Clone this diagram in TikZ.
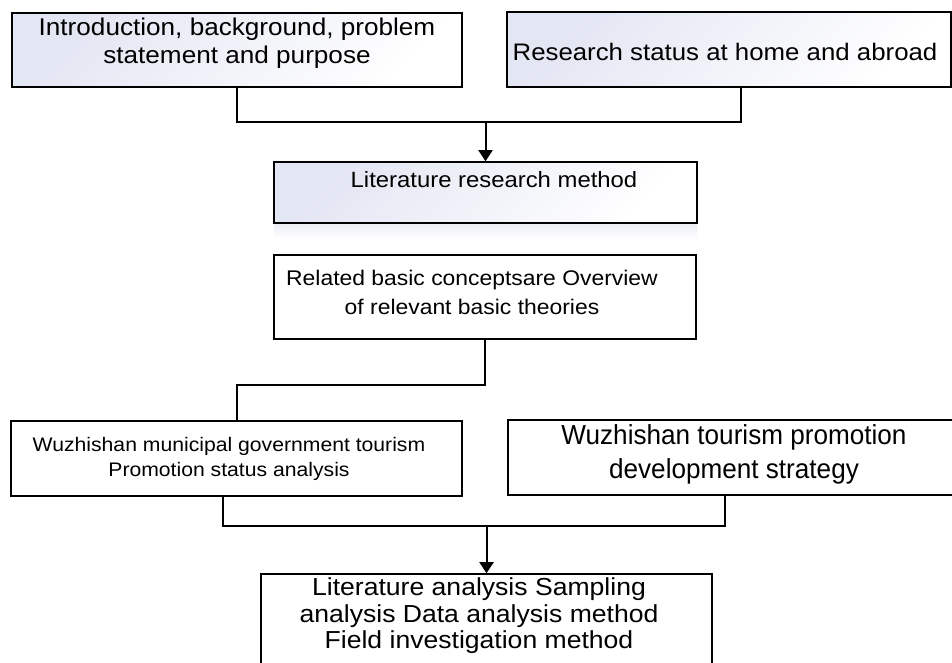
\documentclass[tikz,border=0pt]{standalone}
\usepackage{fontspec}
\setmainfont{Liberation Sans}[FakeStretch=1.08]
\newfontfamily\plainf{Liberation Sans}[FakeStretch=0.95]
\usetikzlibrary{arrows.meta}
\definecolor{grad}{HTML}{E3E6F3}
\begin{document}
\begin{tikzpicture}[x=1pt,y=-1pt,
  box/.style={draw=black, line width=1.6pt, rectangle, inner sep=0pt},
  gbox/.style={box, top color=grad, bottom color=white, shading angle=45},
  conn/.style={line width=2pt, black},
  arr/.style={conn, -{Triangle[width=14pt,length=11pt]}},
  lbl/.style={align=center, inner sep=0pt, text=black}]
\clip (0,0) rectangle (952,662);
\fill[white] (0,0) rectangle (952,662);

% boxes
\node[gbox, minimum width=450pt, minimum height=74pt] (b1) at (237,50) {};
\node[gbox, minimum width=444pt, minimum height=75pt] (b2) at (729,49.5) {};
\node[draw=none, inner sep=0pt, minimum width=423pt, minimum height=15pt,
      top color=grad!70, bottom color=white] (shadow) at (485.5,231) {};
\node[gbox, minimum width=423pt, minimum height=61pt] (lit) at (485.5,192.5) {};
\node[box, fill=white, minimum width=422pt, minimum height=84pt] (rel) at (485,297) {};
\node[box, fill=white, minimum width=451pt, minimum height=75pt] (b3) at (236.5,458.5) {};
\node[box, fill=white, minimum width=452pt, minimum height=75pt] (b4) at (734,457.5) {};
\node[box, fill=white, minimum width=451pt, minimum height=126pt] (bot) at (486.5,637) {};

% texts
\node[lbl, font=\fontsize{24.2}{28}\selectfont] (t1) at (237,43)
  {Introduction, background, problem\\statement and purpose};
\node[lbl, font=\fontsize{23.9}{28}\selectfont] (t2) at (725,52)
  {Research status at home and abroad};
\node[lbl, font=\fontsize{22.1}{26}\selectfont] (tl) at (494,180)
  {Literature research method};
\node[lbl, font=\fontsize{21.2}{29}\selectfont] (tr) at (472,292)
  {Related basic conceptsare Overview\\of relevant basic theories};
\node[lbl, font=\fontsize{19.6}{25.5}\selectfont] (t3) at (229,459)
  {Wuzhishan municipal government tourism\\Promotion status analysis};
\node[lbl, font=\plainf\fontsize{27.5}{34}\selectfont] (t4) at (734,454)
  {Wuzhishan tourism promotion\\development strategy};
\node[lbl, font=\fontsize{24.6}{26.5}\selectfont] (tb) at (479,616)
  {Literature analysis Sampling\\analysis Data analysis method\\Field investigation method};

% connectors
\coordinate (j1) at (485.5,122);
\coordinate (b2s) at ([xshift=12pt]b2.south);
\draw[conn] (b1.south) |- (j1) -| (b2s);
\draw[arr] (j1) -- (lit.north);

\draw[conn] (rel.south) -- ++(0,45) -| (b3.north);

\coordinate (j2) at (486.5,526);
\coordinate (b3s) at ([xshift=-13.5pt]b3.south);
\coordinate (b4s) at ([xshift=-9pt]b4.south);
\draw[conn] (b3s) |- (j2) -| (b4s);
\draw[arr] (j2) -- (bot.north);
\end{tikzpicture}
\end{document}
